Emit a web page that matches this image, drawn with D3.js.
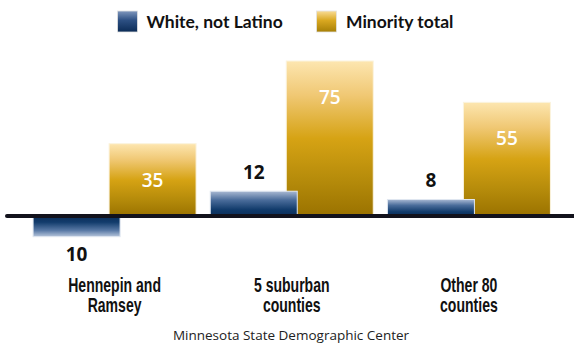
<!DOCTYPE html>
<html>
<head>
<meta charset="utf-8">
<script src="https://cdn.jsdelivr.net/npm/d3@7"></script>
<style>
  html, body { margin: 0; padding: 0; background: #fff; }
  svg { display: block; }
</style>
</head>
<body>
<svg id="chart" width="574" height="352"></svg>
<script>
// Change in population by county group
const categories = ["Hennepin and Ramsey", "5 suburban counties", "Other 80 counties"];
const categoryLines = [["Hennepin and", "Ramsey"], ["5 suburban", "counties"], ["Other 80", "counties"]];
const seriesNames = ["White, not Latino", "Minority total"];
const whiteValues = [-10, 12, 8];
const minorityValues = [35, 75, 55];
const sourceText = "Minnesota State Demographic Center";

const svg = d3.select("#chart");
const defs = svg.append("defs");

function linGrad(id, stops) {
  const g = defs.append("linearGradient").attr("id", id)
    .attr("x1", "0%").attr("x2", "0%").attr("y1", "0%").attr("y2", "100%");
  stops.forEach(([o, c]) => g.append("stop").attr("offset", o).attr("stop-color", c));
}
linGrad("blueUp", [["0%", "#a9b9d3"], ["35%", "#4b6d9b"], ["75%", "#103a6a"], ["100%", "#0b2d58"]]);
linGrad("blueDown", [["0%", "#0b2d58"], ["30%", "#123c6c"], ["70%", "#5a7aa6"], ["100%", "#b7c6dc"]]);
linGrad("gold", [["0%", "#fde6b0"], ["22%", "#f0c874"], ["50%", "#d6a314"], ["78%", "#b48a0a"], ["100%", "#9a7200"]]);
linGrad("blueKey", [["0%", "#8097bd"], ["45%", "#2c4f82"], ["100%", "#0b2b56"]]);
linGrad("goldKey", [["0%", "#f9dc95"], ["45%", "#d9a820"], ["100%", "#a67f06"]]);

// Scales
const x = d3.scaleBand().domain(categories).range([26, 557.5]).padding(0);
const y = d3.scaleLinear().domain([-10, 75]).range([236.7, 61]);
const barW = 87, overlap = 11;
const center = c => x(c) + x.bandwidth() / 2;
const whiteX = c => center(c) - barW + overlap / 2;
const minorityX = c => center(c) - overlap / 2;

const numFont = "'Open Sans', 'Noto Sans', sans-serif";

// Minority bars (drawn first, white bars sit on top)
svg.append("g").selectAll("rect")
  .data(categories)
  .join("rect")
  .attr("x", c => minorityX(c))
  .attr("width", barW)
  .attr("y", (c, i) => y(minorityValues[i]))
  .attr("height", (c, i) => y(0) - y(minorityValues[i]))
  .attr("fill", "url(#gold)")
  .attr("stroke", "#fbf3de").attr("stroke-width", 1);

// White, not Latino bars
svg.append("g").selectAll("rect")
  .data(categories)
  .join("rect")
  .attr("x", c => whiteX(c))
  .attr("width", barW)
  .attr("y", (c, i) => y(Math.max(0, whiteValues[i])))
  .attr("height", (c, i) => Math.abs(y(whiteValues[i]) - y(0)))
  .attr("fill", (c, i) => whiteValues[i] < 0 ? "url(#blueDown)" : "url(#blueUp)")
  .attr("stroke", "#dfe6f0").attr("stroke-width", 1);

// Zero line
svg.append("line")
  .attr("x1", 7).attr("x2", 576)
  .attr("y1", y(0)).attr("y2", y(0))
  .attr("stroke", "#12121c").attr("stroke-width", 4)
  .attr("stroke-linecap", "round");

// Value labels inside minority bars
svg.append("g").selectAll("text")
  .data(categories)
  .join("text")
  .attr("x", c => minorityX(c) + barW / 2)
  .attr("y", (c, i) => y(minorityValues[i]) + 43)
  .attr("text-anchor", "middle")
  .attr("font-family", numFont).attr("font-weight", 600).attr("font-size", 19)
  .attr("fill", "#fff")
  .text((c, i) => Math.abs(minorityValues[i]));

// Value labels beside white bars
svg.append("g").selectAll("text")
  .data(categories)
  .join("text")
  .attr("x", c => whiteX(c) + barW / 2)
  .attr("y", (c, i) => whiteValues[i] < 0 ? y(whiteValues[i]) + 24 : y(whiteValues[i]) - 12)
  .attr("text-anchor", "middle")
  .attr("font-family", numFont).attr("font-weight", 700).attr("font-size", 19)
  .attr("fill", "#111")
  .text((c, i) => Math.abs(whiteValues[i]));

// Category labels, set in a condensed bold face
const cat = svg.append("g").selectAll("g")
  .data(categories)
  .join("g")
  .attr("transform", c => `translate(${center(c)},0) scale(0.72,1)`);
cat.append("text")
  .attr("y", 291.7)
  .attr("text-anchor", "middle")
  .attr("font-family", "'Liberation Sans', Arial, sans-serif").attr("font-weight", 700).attr("font-size", 19.5)
  .attr("fill", "#111")
  .selectAll("tspan")
  .data((c, i) => categoryLines[i])
  .join("tspan")
  .attr("x", 0)
  .attr("dy", (d, j) => j === 0 ? 0 : 20.6)
  .text(d => d);

// Legend
const legendItems = [
  { name: seriesNames[0], fill: "url(#blueKey)", sx: 117.5, tx: 146.5 },
  { name: seriesNames[1], fill: "url(#goldKey)", sx: 316.5, tx: 346 }
];
const lg = svg.append("g").selectAll("g").data(legendItems).join("g");
lg.append("rect")
  .attr("x", d => d.sx).attr("y", 11)
  .attr("width", 20).attr("height", 21)
  .attr("fill", d => d.fill)
  .attr("stroke", "#e3e3e3").attr("stroke-width", 0.8);
lg.append("text")
  .attr("x", d => d.tx).attr("y", 28.3)
  .attr("font-family", "Lato, 'Open Sans', sans-serif").attr("font-weight", 700).attr("font-size", 17.5)
  .attr("fill", "#111")
  .text(d => d.name);

// Source line
svg.append("text")
  .attr("x", 291).attr("y", 340)
  .attr("text-anchor", "middle")
  .attr("font-family", "'Open Sans', 'Noto Sans', sans-serif").attr("font-size", 13.5)
  .attr("fill", "#222")
  .text(sourceText);
</script>
</body>
</html>
